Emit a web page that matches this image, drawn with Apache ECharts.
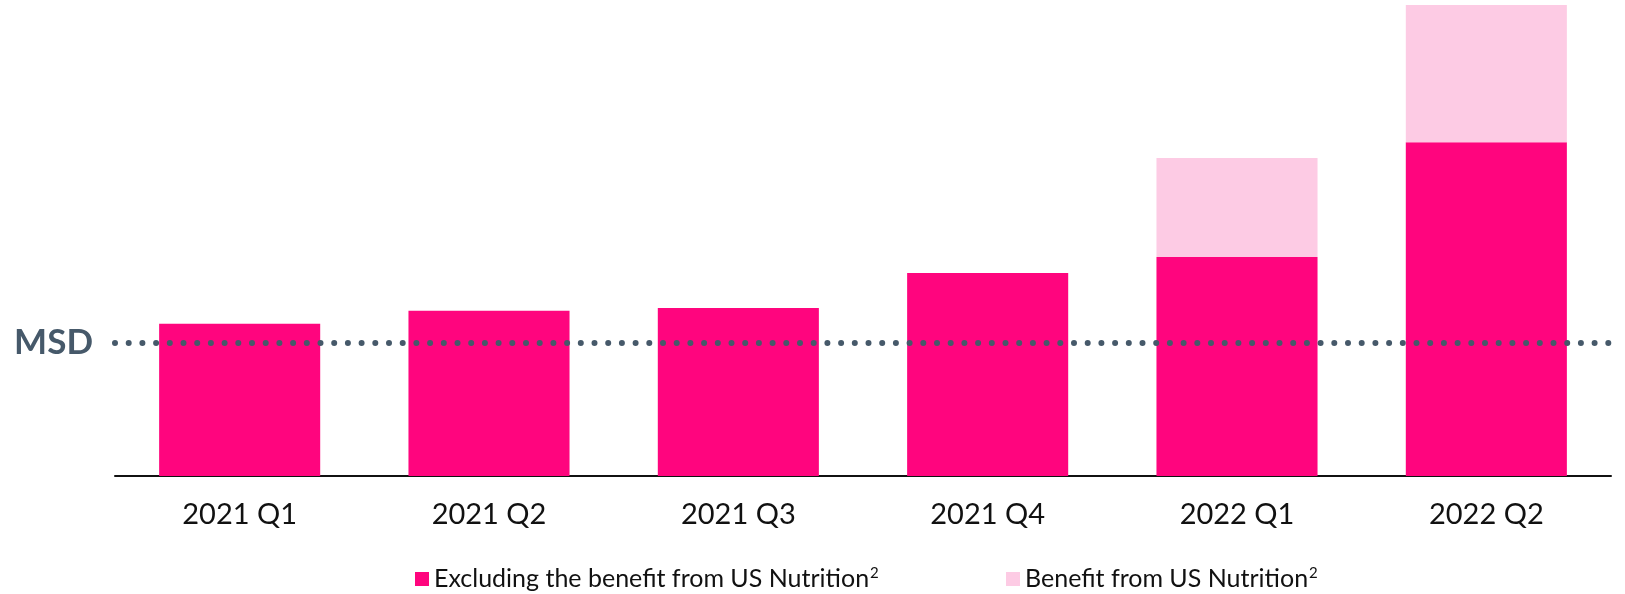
<!DOCTYPE html>
<html>
<head>
<meta charset="utf-8">
<script src="https://cdn.jsdelivr.net/npm/echarts@6/dist/echarts.min.js"></script>
<style>
  html, body { margin: 0; padding: 0; background: #ffffff; }
  #chart { width: 1625px; height: 594px; }
</style>
</head>
<body>
<div id="chart"></div>
<script>
// Quarterly sales index (MSD = 100)
const quarters = ['2021 Q1', '2021 Q2', '2021 Q3', '2021 Q4', '2022 Q1', '2022 Q2'];
const excludingNutrition = [114.5, 124.3, 126.4, 152.7, 164.7, 251.0];
const nutritionBenefit = [0, 0, 0, 0, 74.5, 103.3];
const msdLevel = 100;

const seriesNames = ['Excluding the benefit from US Nutrition', 'Benefit from US Nutrition'];
const footnote = '2';
const colors = ['#FF057E', '#FDCBE4'];
const slate = '#46596A';
const font = 'Lato, "Open Sans", sans-serif';

// legend text with a raised footnote marker
const legendText = {
  fontFamily: font,
  color: '#111111',
  rich: {
    t: { fontFamily: font, fontSize: 25, color: '#111111', lineHeight: 26, verticalAlign: 'middle' },
    s: { fontFamily: font, fontSize: 15, color: '#111111', lineHeight: 15, verticalAlign: 'top', padding: [0, 0, 0, 1] }
  }
};
const legendFormatter = name => '{t|' + name + '}{s|' + footnote + '}';

const chart = echarts.init(document.getElementById('chart'));
chart.setOption({
  animation: false,
  backgroundColor: '#ffffff',
  textStyle: { fontFamily: font },
  grid: { left: 115, right: 14, top: 0, bottom: 118, containLabel: false },
  legend: [
    {
      left: 410, top: 561, itemWidth: 14, itemHeight: 14, itemGap: 6,
      icon: 'rect', selectedMode: false, formatter: legendFormatter,
      textStyle: legendText, data: [seriesNames[0]]
    },
    {
      left: 1001, top: 561, itemWidth: 14, itemHeight: 14, itemGap: 6,
      icon: 'rect', selectedMode: false, formatter: legendFormatter,
      textStyle: legendText, data: [seriesNames[1]]
    }
  ],
  xAxis: {
    type: 'category',
    data: quarters,
    axisLine: { show: true, lineStyle: { color: '#111111', width: 2 } },
    axisTick: { show: false },
    axisLabel: { color: '#111111', fontSize: 29, margin: 24, fontFamily: font }
  },
  yAxis: {
    type: 'value',
    min: 0,
    max: 358,
    show: false,
    splitLine: { show: false }
  },
  series: [
    {
      name: seriesNames[0],
      type: 'bar',
      stack: 'sales',
      data: excludingNutrition,
      barCategoryGap: '35.4%',
      itemStyle: { color: colors[0] },
      z: 2,
      markLine: {
        silent: true,
        symbol: 'none',
        z: 5,
        lineStyle: { color: slate, width: 6, type: [0, 13.7], cap: 'round' },
        label: {
          show: true,
          position: 'start',
          formatter: 'MSD',
          color: slate,
          fontSize: 35,
          fontWeight: 'bold',
          fontFamily: font,
          distance: 22
        },
        data: [{ yAxis: msdLevel }]
      }
    },
    {
      name: seriesNames[1],
      type: 'bar',
      stack: 'sales',
      data: nutritionBenefit,
      itemStyle: { color: colors[1] },
      z: 2
    }
  ]
});
</script>
</body>
</html>
